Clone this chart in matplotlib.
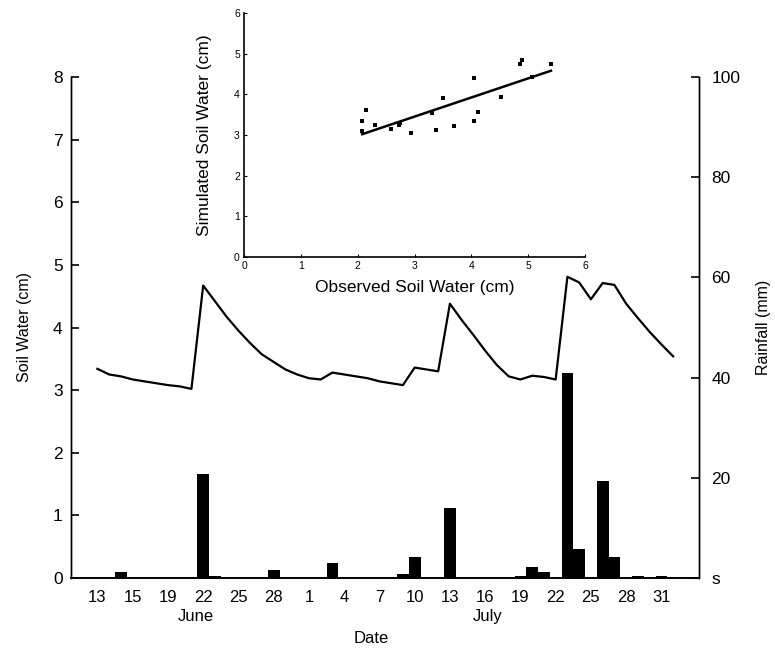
import numpy as np
import matplotlib
matplotlib.use("Agg")
import matplotlib.pyplot as plt
from matplotlib.transforms import blended_transform_factory

plt.rcParams['font.family'] = ['Liberation Sans', 'DejaVu Sans']

# day index 0 = 13 June
days = np.arange(0, 50)
soil_water = [3.34, 3.25, 3.22, 3.17, 3.14, 3.11, 3.08, 3.06, 3.02, 4.67,
              4.42, 4.17, 3.95, 3.75, 3.57, 3.45, 3.33, 3.25, 3.19, 3.17,
              3.28, 3.25, 3.22, 3.19, 3.14, 3.11, 3.08, 3.36, 3.33, 3.30,
              4.38, 4.12, 3.88, 3.63, 3.40, 3.22, 3.17, 3.23, 3.21, 3.17,
              4.81, 4.72, 4.45, 4.71, 4.68, 4.38, 4.15, 3.93, 3.73, 3.54]

rain_days = [2, 9, 10, 15, 20, 26, 27, 30, 36, 37, 38, 40, 41, 43, 44, 46, 48]
rain_mm = [1.2, 20.7, 0.4, 1.5, 3.0, 0.8, 4.2, 14.0, 0.4, 2.2, 1.2, 41.0, 5.8,
           19.3, 4.2, 0.3, 0.3]

tick_days = list(range(0, 49, 3))
tick_labels = ['13', '15', '19', '22', '25', '28', '1', '4', '7', '10', '13',
               '16', '19', '22', '25', '28', '31']
month_labels = ['June', 'July']
month_pos = [8.4, 33.2]

left_ticks = [0, 1, 2, 3, 4, 5, 6, 7, 8]
right_ticks = [0, 20, 40, 60, 80, 100]
right_labels = ['s', '20', '40', '60', '80', '100']

# inset scatter: observed vs simulated
obs = [2.07, 2.08, 2.14, 2.31, 2.59, 2.73, 2.75, 2.93, 3.31, 3.38, 3.51, 3.69,
       4.05, 4.05, 4.12, 4.53, 4.86, 4.89, 5.07, 5.40]
sim = [3.34, 3.09, 3.61, 3.25, 3.15, 3.25, 3.30, 3.05, 3.54, 3.13, 3.90, 3.23,
       4.40, 3.35, 3.57, 3.94, 4.75, 4.85, 4.42, 4.75]
fit_x = [2.08, 5.40]
fit_y = [3.02, 4.58]

fig = plt.figure(figsize=(7.75, 6.53), dpi=100)
ax = fig.add_axes([71/775, 1 - 578/653, 628/775, 501/653])
ax2 = ax.twinx()

ax2.bar(rain_days, rain_mm, width=1.0, color='black', linewidth=0, zorder=2)
ax.plot(days, soil_water, color='black', linewidth=1.6, zorder=3)

ax.set_zorder(ax2.get_zorder() + 1)
ax.patch.set_visible(False)

ax.set_xlim(-2.25, 51.2)
ax.set_ylim(0, 8)
ax2.set_ylim(0, 100)

for a in (ax, ax2):
    a.spines['top'].set_visible(False)
    a.spines['left'].set_linewidth(1.0)
    a.spines['right'].set_linewidth(1.0)
    a.spines['bottom'].set_linewidth(1.2)

ax.set_xticks(tick_days)
ax.set_xticklabels(tick_labels, fontsize=12)
ax.tick_params(axis='x', length=0, pad=9)
ax.set_yticks(left_ticks)
ax.tick_params(axis='y', direction='in', length=6, width=1.2, labelsize=12.5, pad=6)
ax2.set_yticks(right_ticks)
ax2.set_yticklabels(right_labels)
ax2.tick_params(axis='y', direction='in', length=6, width=1.2, labelsize=12.5, pad=9)

ax.set_ylabel('Soil Water (cm)', fontsize=11.5, labelpad=15)
ax2.set_ylabel('Rainfall (mm)', fontsize=11.5, labelpad=11)

trans = blended_transform_factory(ax.transData, ax.transAxes)
for lab, pos in zip(month_labels, month_pos):
    ax.text(pos, -0.076, lab, transform=trans, ha='center', va='center', fontsize=12)
ax.text(23.3, -0.12, 'Date', transform=trans, ha='center', va='center', fontsize=12)

# inset
ins = fig.add_axes([244/775, 1 - 257/653, 341/775, 244/653])
ins.patch.set_visible(False)
ins.scatter(obs, sim, marker='s', s=9, color='black', linewidths=0, zorder=3)
ins.plot(fit_x, fit_y, color='black', linewidth=1.8)
ins.set_xlim(0, 6)
ins.set_ylim(0, 6)
ins.spines['top'].set_visible(False)
ins.spines['right'].set_visible(False)
ins.spines['left'].set_linewidth(1.2)
ins.spines['bottom'].set_linewidth(1.2)
ins.set_xticks(range(0, 7))
ins.set_yticks(range(0, 7))
ins.tick_params(direction='in', length=2.5, labelsize=7.5, pad=3)
ins.set_xlabel('Observed Soil Water (cm)', fontsize=12.5, labelpad=6)
ins.set_ylabel('Simulated Soil Water (cm)', fontsize=12.5, labelpad=16)

fig.savefig('out.png', dpi=100)
